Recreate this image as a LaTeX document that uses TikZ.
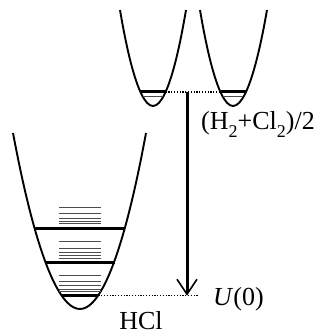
\documentclass[tikz,border=0pt]{standalone}
\usepackage{fontspec}
\setmainfont{Liberation Serif}
\usetikzlibrary{arrows.meta}

\newcommand{\lowidx}[1]{\raisebox{-0.32em}{\fontsize{18}{18}\selectfont #1}}

\begin{document}
\begin{tikzpicture}[x=1pt, y=-1pt,
  well/.style={line width=1.9pt},
  vibLevel/.style={line width=3pt},
  rotLevel/.style={line width=1pt, black!70},
  guide/.style={line width=1.5pt, dash pattern=on 1.2pt off 1.6pt},
  energyArrow/.style={line width=3pt, ->},
  wellLabel/.style={font=\fontsize{26}{30}\selectfont, inner sep=0pt},
  >={Straight Barb[length=15pt,width=20pt,line width=1.6pt]}
]
  \useasboundingbox (0,0) rectangle (323,334);

  % === H2 and Cl2 wells ===
  \draw[well] (120,10) parabola bend (153,106) (186,10);
  \draw[well] (200,10) parabola bend (233,106) (267,10);
  \draw[vibLevel] (140.5,92) coordinate (hL) -- (165.5,92) coordinate (hR);
  \draw[vibLevel] (220.5,92) coordinate (cL) -- (245.5,92) coordinate (cR);
  \draw[rotLevel] (143,96.5) -- (163,96.5);
  \draw[rotLevel] (223,96.5) -- (243,96.5);
  \node[wellLabel, anchor=base west] (mix) at (201,129)
    {(H\lowidx{2}+Cl\lowidx{2})/2};

  % === HCl well ===
  \draw[well] (13,133) parabola bend (80,309) (146,133);
  \draw[vibLevel] (35,228) -- (125,228);
  \draw[vibLevel] (45.5,262.3) -- (114.5,262.3);
  \draw[vibLevel] (61.6,295.7) -- (98.4,295.7) coordinate (gR);
  % rotational levels above each vibrational level
  \foreach \lev in {228,262.3,295.7}
    \foreach \d in {4.2,6.5,9.9,14.1,20.5}
      \draw[rotLevel] (59,\lev-\d) -- (100.5,\lev-\d);
  \node[wellLabel, anchor=base] (hcl) at (141,329) {HCl};
  \node[wellLabel, anchor=base west] (zero) at (213,305) {\textit{U}(0)};

  % === Energy difference ===
  \coordinate (top) at (187,92);
  \coordinate (bot) at (187,295.7);
  \coordinate (gEnd) at (198,295.7);
  \draw[guide] (hR) -- (cL);
  \draw[guide] (gR) -- (gEnd);
  \draw[energyArrow] (top) -- (bot);
\end{tikzpicture}
\end{document}
